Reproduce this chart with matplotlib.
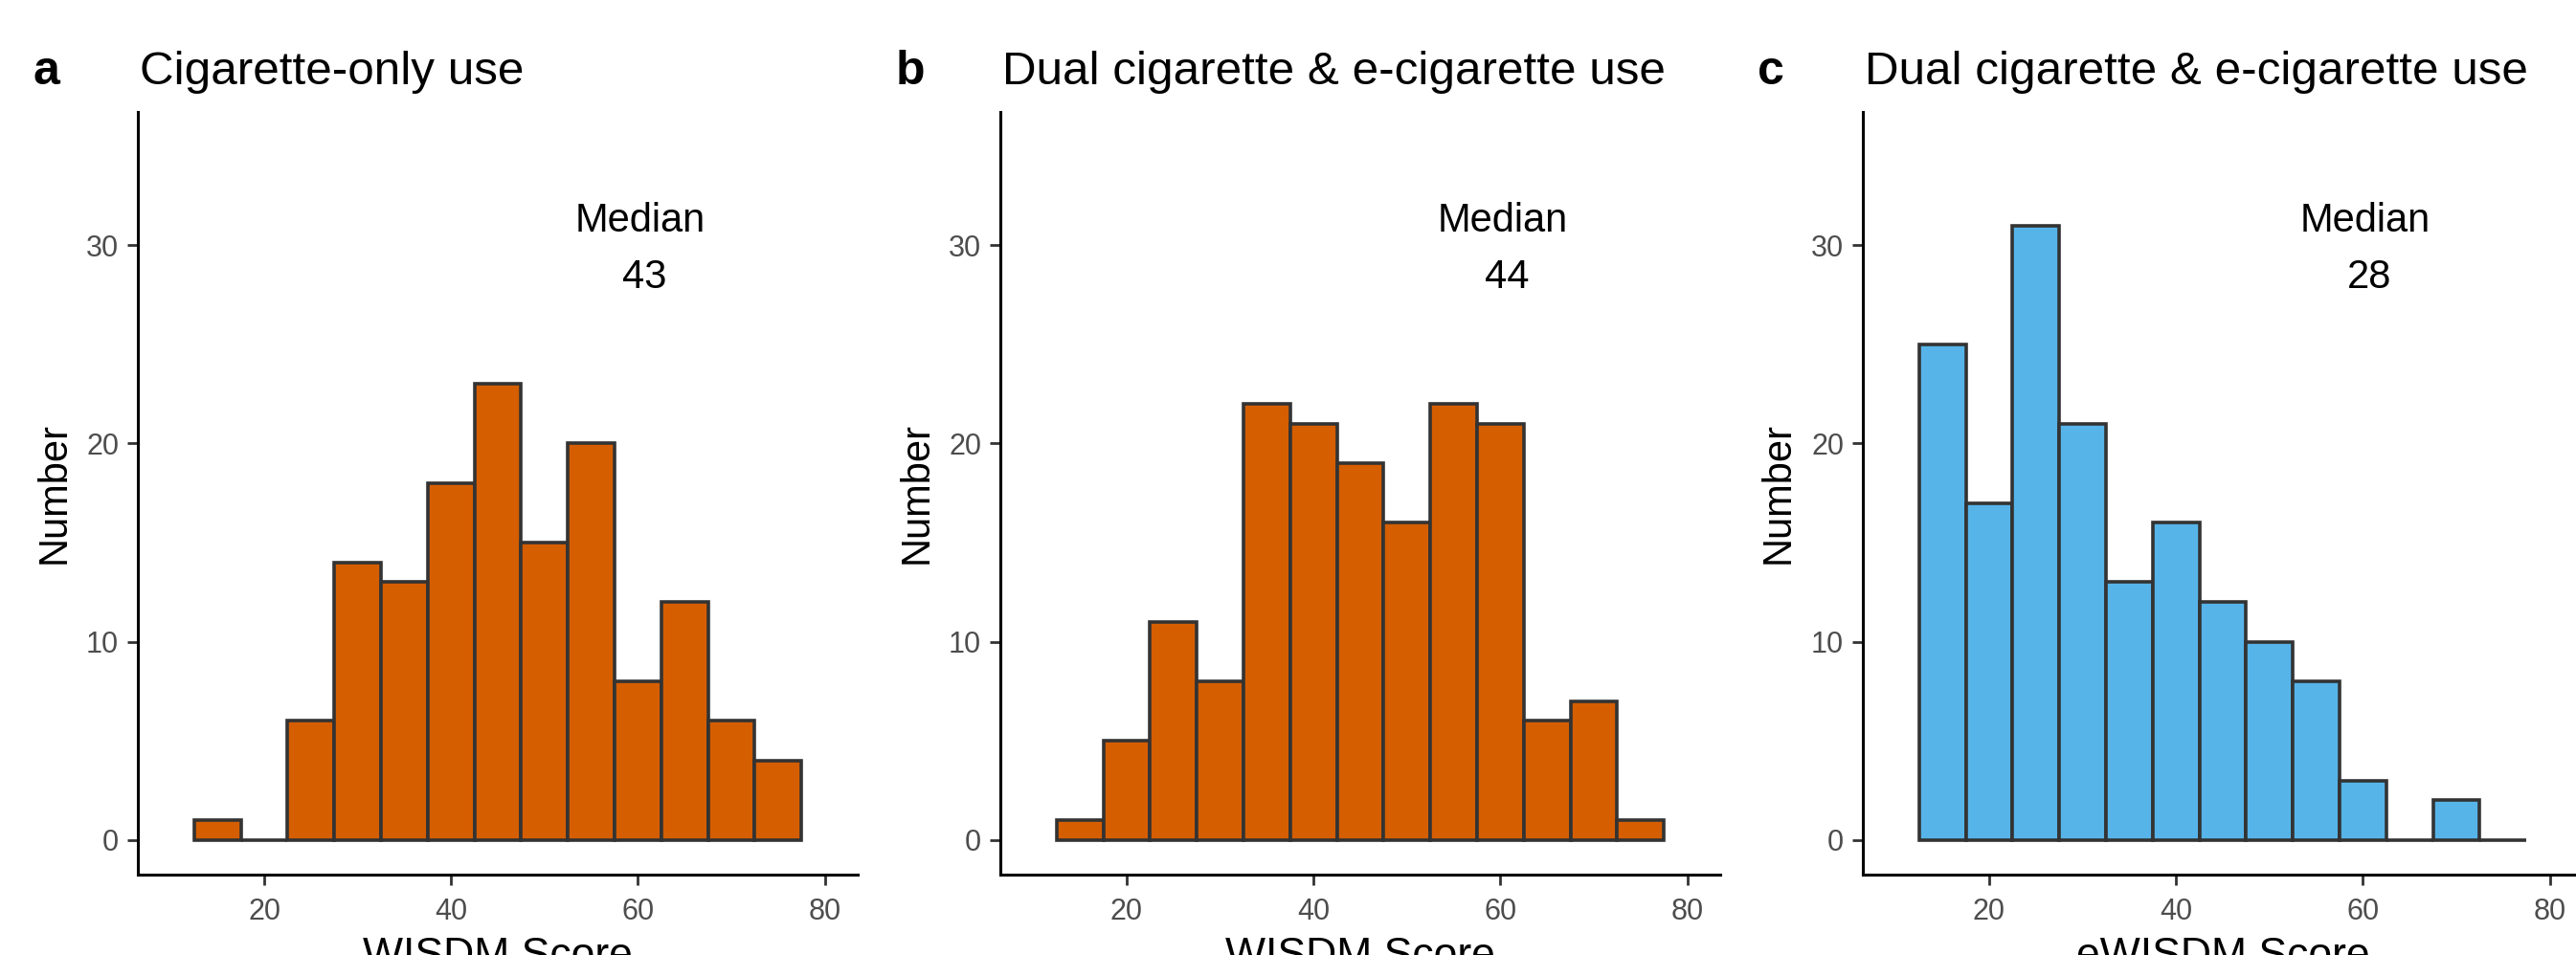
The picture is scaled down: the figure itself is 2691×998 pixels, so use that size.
import numpy as np
import matplotlib.pyplot as plt

plt.rcParams["font.family"] = ["Liberation Sans", "DejaVu Sans"]

# histogram bins (width 5, from 12.5 to 77.5)
bin_edges = [12.5, 17.5, 22.5, 27.5, 32.5, 37.5, 42.5, 47.5, 52.5, 57.5, 62.5, 67.5, 72.5, 77.5]

counts_a = [1, 0, 6, 14, 13, 18, 23, 15, 20, 8, 12, 6, 4]
counts_b = [1, 5, 11, 8, 22, 21, 19, 16, 22, 21, 6, 7, 1]
counts_c = [25, 17, 31, 21, 13, 16, 12, 10, 8, 3, 0, 2, 0]

tags = ["a", "b", "c"]
titles = ["Cigarette-only use", "Dual cigarette & e-cigarette use", "Dual cigarette & e-cigarette use"]
xlabels = ["WISDM Score", "WISDM Score", "eWISDM Score"]
medians = [43, 44, 28]
colors = ["#D55E00", "#D55E00", "#56B4E9"]
all_counts = [counts_a, counts_b, counts_c]

fig = plt.figure(figsize=(13.455, 4.99), dpi=200)

lefts = [0.0536, 0.3884, 0.7232]
width = 0.2793
bottom = 0.0842
height = 0.799

edges = np.array(bin_edges)
widths = np.diff(edges)

for i in range(3):
    ax = fig.add_axes([lefts[i], bottom, width, height])
    ax.bar(edges[:-1], all_counts[i], width=widths, align="edge",
           color=colors[i], edgecolor="#333333", linewidth=1.3)
    ax.set_xlim(6.5, 83.5)
    ax.set_ylim(-1.75, 36.75)
    ax.set_xticks([20, 40, 60, 80])
    ax.set_yticks([0, 10, 20, 30])
    for s in ["top", "right"]:
        ax.spines[s].set_visible(False)
    for s in ["left", "bottom"]:
        ax.spines[s].set_linewidth(1.1)
        ax.spines[s].set_color("black")
    ax.tick_params(axis="both", length=4, width=1.0, color="#333333",
                   labelsize=11, labelcolor="#4D4D4D")
    ax.tick_params(axis="x", pad=4.5)
    ax.tick_params(axis="y", pad=3.2)
    ax.set_ylabel("Number", fontsize=15, labelpad=5)
    ax.set_xlabel(xlabels[i], fontsize=16, labelpad=4)

    ax.text(60.2, 30.7, "Median", ha="center", va="baseline", fontsize=15)
    ax.text(60.7, 27.85, str(medians[i]), ha="center", va="baseline", fontsize=15)

    fig.text(lefts[i] + 0.0006, 0.9118, titles[i], ha="left", va="baseline", fontsize=17.8)
    fig.text(lefts[i] - 0.0408, 0.9118, tags[i], ha="left", va="baseline",
             fontsize=18, fontweight="bold")

fig.savefig("out.png", dpi=200)
